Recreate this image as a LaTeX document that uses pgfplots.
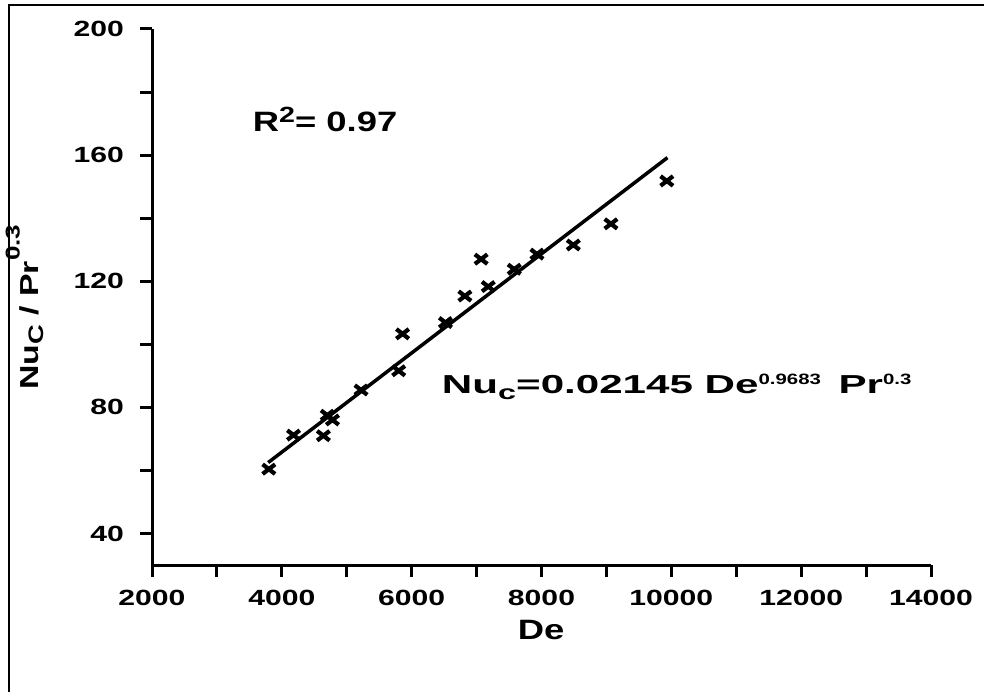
\documentclass[border=0pt]{standalone}
\usepackage{fontspec}
\setmainfont{Liberation Sans}
\newfontfamily\tf{Liberation Sans}[FakeStretch=1.37]
\newfontfamily\rf{Liberation Sans}[FakeStretch=1.3]
\newfontfamily\ef{Liberation Sans}[FakeStretch=1.62]
\newfontfamily\es{Liberation Sans}[FakeStretch=1.36]
\usepackage{pgfplots}
\pgfplotsset{compat=1.18}
\newcommand{\fs}[1]{\fontsize{#1}{#1}\selectfont}
\begin{document}
\begin{tikzpicture}
\useasboundingbox (0,0) rectangle (984pt,691pt);
\draw[line width=2pt] (9pt,-5pt) -- (9pt,686pt) -- (990pt,686pt);
\begin{axis}[
  at={(152pt,126pt)}, anchor=south west,
  scale only axis, width=779pt, height=536pt,
  xmin=2000, xmax=14000, ymin=30, ymax=200,
  axis x line=bottom, axis y line=left,
  axis line style={line width=3pt},
  every inner x axis line/.append style={-},
  every outer x axis line/.append style={-},
  every inner y axis line/.append style={-},
  every outer y axis line/.append style={-},
  scaled x ticks=false, scaled y ticks=false,
  xtick={2000,4000,...,14000},
  xticklabels={2000,4000,6000,8000,10000,12000,14000},
  minor xtick={3000,5000,...,13000},
  ytick={40,80,...,200},
  yticklabels={40,80,120,160,200},
  minor ytick={60,100,140,180},
  tick align=outside,
  major tick length=12pt, minor tick length=12pt,
  tick style={line width=3pt, black},
  ticklabel style={font=\tf\bfseries\fs{22}},
  xticklabel style={inner sep=0pt, anchor=north, yshift=-13pt},
  yticklabel style={inner sep=0pt, anchor=east, xshift=-16pt},
  clip=false,
]
\addplot[only marks, mark=x, mark size=6.8pt,
  mark options={xscale=1.3, line width=4.2pt}] coordinates {
  (3800,60.4) (4180,71.2) (4640,71) (4700,77.5) (4780,76)
  (5220,85.5) (5800,91.6) (5860,103.3) (6520,106.9)
  (6820,115.3) (7070,127) (7180,118.3) (7580,123.8)
  (7930,128.6) (8490,131.5) (9070,138.2) (9930,151.8)
};
\addplot[line width=3.5pt] coordinates {(3790,62.5) (9940,159.2)};
\node[anchor=base west, inner sep=0pt, font=\rf\bfseries\fs{28}]
  at (axis cs:3552,167.5) {R\raisebox{8.7pt}{\fs{22}2}= 0.97};
\node[anchor=base west, inner sep=0pt]
  at (axis cs:6464,84.4) {\ef\bfseries\fs{26}Nu\raisebox{-6.5pt}{\fs{20}c}=0.02145 De\raisebox{8.5pt}{\es\bfseries\fs{15}0.9683}\hspace{6pt} Pr\raisebox{8.5pt}{\es\bfseries\fs{15}0.3}};
\node[rotate=90, anchor=base, inner sep=0pt, font=\rf\bfseries\fs{26}]
  at (rel axis cs:-0.1463,0.481) {Nu\raisebox{-5pt}{\fs{21}C} / Pr\raisebox{18.5pt}{\fs{20}0.3}};
\node[anchor=base, inner sep=0pt, font=\rf\bfseries\fs{28}]
  at (rel axis cs:0.4994,-0.1386) {De};
\end{axis}
\end{tikzpicture}
\end{document}
